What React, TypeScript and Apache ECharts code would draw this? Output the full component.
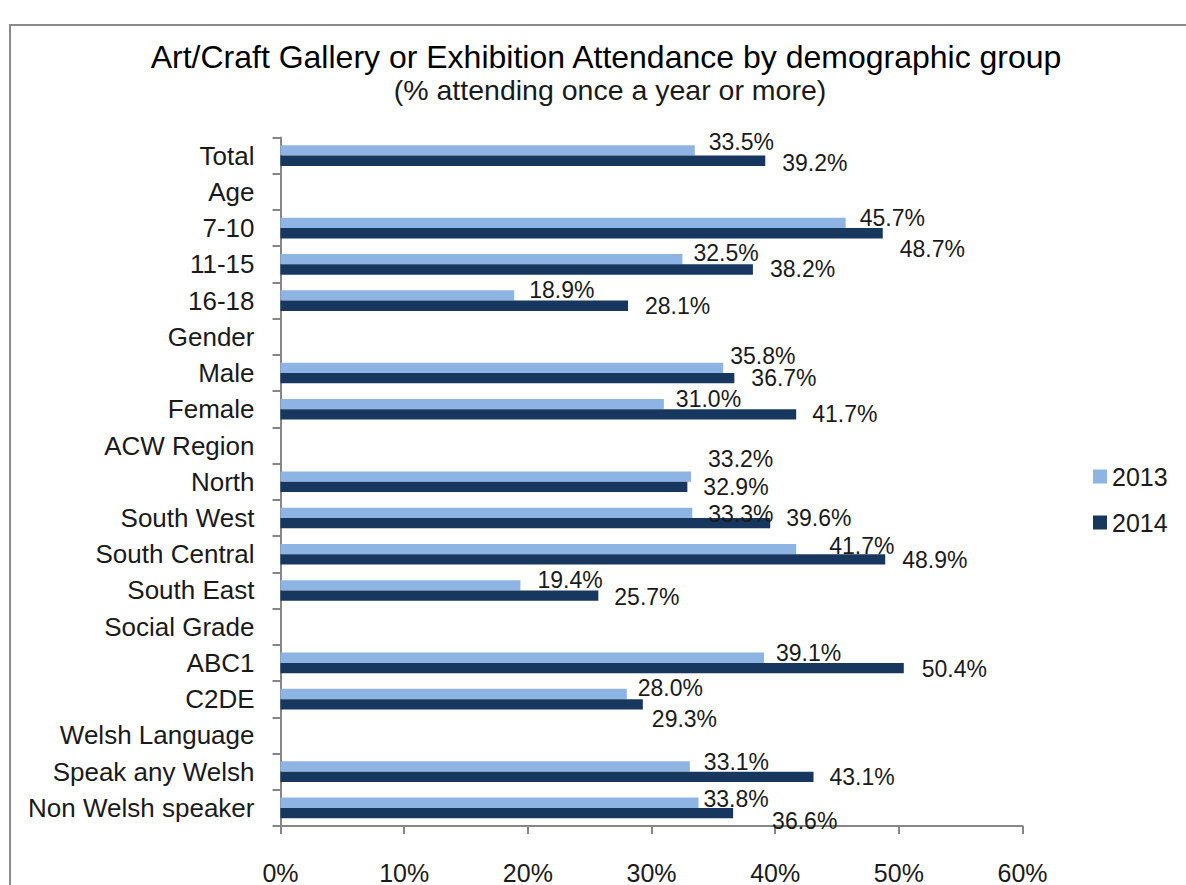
import React, { useEffect, useRef } from "react";
import * as echarts from "echarts";

const categories = [
  "Total",
  "Age",
  "7-10",
  "11-15",
  "16-18",
  "Gender",
  "Male",
  "Female",
  "ACW Region",
  "North",
  "South West",
  "South Central",
  "South East",
  "Social Grade",
  "ABC1",
  "C2DE",
  "Welsh Language",
  "Speak any Welsh",
  "Non Welsh speaker",
];

const values2013 = [33.5, null, 45.7, 32.5, 18.9, null, 35.8, 31.0, null, 33.2, 33.3, 41.7, 19.4, null, 39.1, 28.0, null, 33.1, 33.8];
const values2014 = [39.2, null, 48.7, 38.2, 28.1, null, 36.7, 41.7, null, 32.9, 39.6, 48.9, 25.7, null, 50.4, 29.3, null, 43.1, 36.6];

const seriesNames = ["2013", "2014"];
const xMin = 0;
const xMax = 60;
const xInterval = 10;

// label nudges (style only, relative to the bar end)
const labelOffset2013 = [[14, -8], null, [14, -5], [11, -6.5], [15, -5], null, [7, -12], [12, -5], null, [17, -18], [16, 1], [33, -3], [17, -5], null, [12, -5], [11, -6], null, [14, -4.5], [5, -4]];
const labelOffset2014 = [[17, 2], null, [17, 16], [17, 0], [17, 0], null, [17, 0], [16, 0], null, [16, 0], [16, -5], [17, 1], [16, 1], null, [18, 1], [9, 15], null, [16, 0], [39, 7.5]];

const FONT = "'Liberation Sans', Arial, sans-serif";
const LIGHT = "#8EB4E3";
const DARK = "#17375E";
const AXIS = "#868686";

function buildData(values: (number | null)[], offsets: (number[] | null)[]) {
  return values.map((v, i) => {
    if (v === null) return { value: null };
    return {
      value: v,
      label: { offset: offsets[i] || [14, 0] },
    };
  });
}

export default function App() {
  const ref = useRef<HTMLDivElement>(null);

  useEffect(() => {
    if (!ref.current) return;
    const chart = echarts.init(ref.current, undefined, { renderer: "svg" });
    const labelStyle = {
      show: true,
      position: "right",
      distance: 0,
      color: "#1a1a1a",
      fontFamily: FONT,
      fontSize: 23,
      formatter: (p: any) => (p.value == null ? "" : Number(p.value).toFixed(1) + "%"),
    };
    chart.setOption({
      animation: false,
      backgroundColor: "#ffffff",
      graphic: [
        {
          type: "rect",
          shape: { x: 10, y: 25, width: 1300, height: 1000 },
          style: { fill: "none", stroke: "#8a8a8a", lineWidth: 2 },
          silent: true,
        },
      ],
      title: [
        {
          text: "Art/Craft Gallery or Exhibition Attendance by demographic group",
          left: 601,
          textAlign: "center",
          top: 36,
          textStyle: { fontFamily: FONT, fontSize: 32, fontWeight: "normal", color: "#000000" },
        },
        {
          text: "(% attending once a year or more)",
          left: 605,
          textAlign: "center",
          top: 70,
          textStyle: { fontFamily: FONT, fontSize: 28.5, fontWeight: "normal", color: "#1a1a1a" },
        },
      ],
      legend: {
        orient: "vertical",
        left: 1088,
        top: 459,
        itemWidth: 14,
        itemHeight: 14,
        itemGap: 21,
        icon: "rect",
        data: seriesNames,
        textStyle: { fontFamily: FONT, fontSize: 25, color: "#1a1a1a", lineHeight: 24 },
      },
      grid: { left: 280.5, right: 163.5, top: 137.5, bottom: 57.3, containLabel: false },
      xAxis: {
        type: "value",
        min: xMin,
        max: xMax,
        interval: xInterval,
        axisLine: { show: true, lineStyle: { color: AXIS, width: 2 } },
        axisTick: { show: true, length: 8, lineStyle: { color: AXIS, width: 2 } },
        splitLine: { show: false },
        axisLabel: {
          formatter: "{value}%",
          margin: 34,
          fontFamily: FONT,
          fontSize: 25,
          color: "#1a1a1a",
        },
      },
      yAxis: {
        type: "category",
        inverse: true,
        data: categories,
        axisLine: { show: true, lineStyle: { color: AXIS, width: 2 } },
        axisTick: { show: true, length: 8, alignWithLabel: false, lineStyle: { color: AXIS, width: 2 } },
        axisLabel: { margin: 26, fontFamily: FONT, fontSize: 26, color: "#1a1a1a" },
      },
      series: [
        {
          name: seriesNames[0],
          type: "bar",
          data: buildData(values2013, labelOffset2013),
          itemStyle: { color: LIGHT },
          barGap: "0%",
          barCategoryGap: "43%",
          label: labelStyle,
        },
        {
          name: seriesNames[1],
          type: "bar",
          data: buildData(values2014, labelOffset2014),
          itemStyle: { color: DARK },
          barGap: "0%",
          barCategoryGap: "43%",
          label: labelStyle,
        },
      ],
    });
    return () => chart.dispose();
  }, []);

  return (
    <div
      ref={ref}
      style={{ position: "fixed", left: 0, top: 0, width: 1186, height: 885, background: "#fff" }}
    />
  );
}
